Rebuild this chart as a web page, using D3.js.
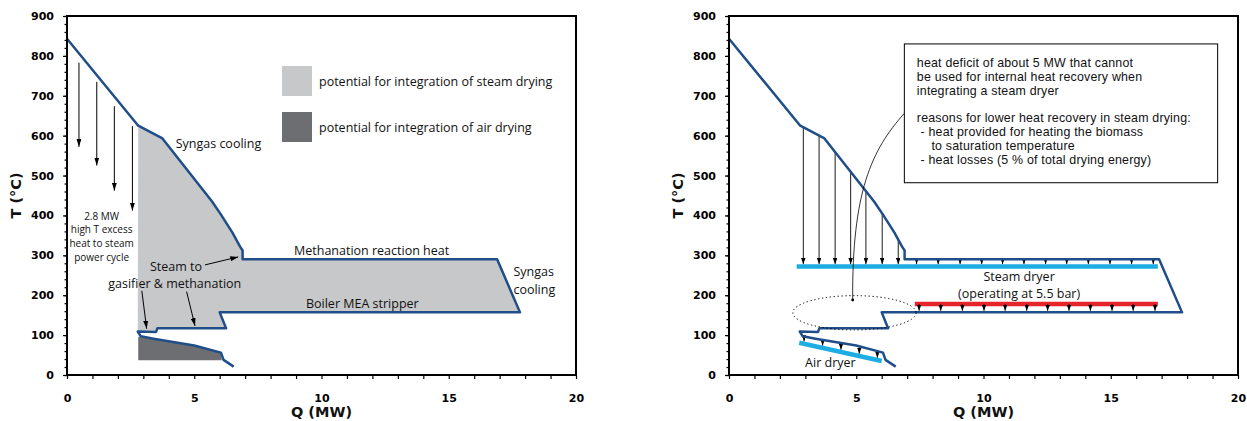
<!DOCTYPE html>
<html>
<head>
<meta charset="utf-8">
<script src="https://cdn.jsdelivr.net/npm/d3@7"></script>
<style>
  body { margin: 0; background: #fff; }
  svg text { font-family: "Open Sans", sans-serif; fill: #111; }
  svg text.box { font-family: "Liberation Sans", Arial, sans-serif; }
  .axis text { font-family: "DejaVu Sans", sans-serif; font-weight: bold; font-size: 11px; fill: #000; }
  .axis-title { font-family: "DejaVu Sans", sans-serif !important; font-weight: bold; font-size: 14.5px; }
</style>
</head>
<body>
<svg id="chart" width="1247" height="421"></svg>
<script>
// grand composite curve, [Q (MW), T (°C)]
const gcc = [[0,843],[2.8,625],[3.75,593],[5.7,435],[6.05,402],[6.5,357],[6.8,322],[6.9,312],[6.9,290],
  [16.9,290],[17.8,157],[6.0,157],[6.25,117],[3.55,117],[3.5,108],[2.78,109],
  [2.9,97],[3.4,91],[5.0,74],[6.05,56],[6.15,38],[6.55,21]];
const airPotential = [[2.8,96],[3.4,91],[5.0,74],[6.05,56],[6.08,37],[2.8,37]];

// left panel annotations
const excessArrowQ = [0.47, 1.17, 1.86, 2.57];
const excessArrowTop = [783, 735, 674, 624];
const excessArrowBottom = [572, 525, 462, 412];
const steamToArrows = [[[5.42,276],[6.73,296]], [[2.94,211],[3.13,116]], [[4.70,209],[5.03,123]]];

// right panel
const steamDryerT = 272, steamDryerQ = [2.66, 16.85];
const redLineT = 178, redLineQ = [7.3, 16.85];
const airDryerLine = [[2.76,81],[6.0,35]];
const hotArrowQ = [2.92, 3.54, 4.17, 4.78, 5.38, 6.02, 6.65];
const methArrowQ = [7.37, 8.22, 9.08, 9.93, 10.75, 11.59, 12.44, 13.27, 14.12, 14.97, 15.82, 16.67];
const redArrowQ = [7.47, 8.32, 9.17, 10.02, 10.85, 11.7, 12.52, 13.36, 14.2, 15.05, 15.88, 16.74];
const airArrowQ = [2.95, 3.68, 4.4, 5.12, 5.83];

const qTicks = [0, 5, 10, 15, 20];
const tTicks = [0, 100, 200, 300, 400, 500, 600, 700, 800, 900];
const qMinor = d3.range(0, 21, 1);
const tMinor = d3.range(0, 901, 20);

const boxLines = ["heat deficit of about 5 MW that cannot", "be used for internal heat recovery when",
  "integrating a steam dryer", "reasons for lower heat recovery in steam drying:",
  " - heat provided for heating the biomass", "    to saturation temperature", " - heat losses (5 % of total drying energy)"];
const boxLineY = [23, 37, 51, 78, 92, 106, 120];

const BLUE = "#1f4e89", LIGHT = "#c7c8ca", DARK = "#6d6e71", CYAN = "#1cade4", RED = "#e8242b";

const svg = d3.select("#chart");
const y = d3.scaleLinear().domain([0, 900]).range([375, 16]);
const xLeft = d3.scaleLinear().domain([0, 20]).range([67, 576]);
const xRight = d3.scaleLinear().domain([0, 20]).range([729, 1238]);

const defs = svg.append("defs");
function marker(id, len, wid) {
  defs.append("marker").attr("id", id)
    .attr("viewBox", `0 0 ${len} ${wid}`)
    .attr("refX", len).attr("refY", wid / 2)
    .attr("markerWidth", len).attr("markerHeight", wid)
    .attr("markerUnits", "userSpaceOnUse").attr("orient", "auto")
    .append("path").attr("d", `M0,0L${len},${wid / 2}L0,${wid}Z`).attr("fill", "#000");
}
marker("ahBig", 8, 5);
marker("ahSmall", 6, 4.5);

// linear interpolation along a piece of the curve
function tAt(q, pts) {
  for (let i = 0; i < pts.length - 1; i++) {
    const a = pts[i], b = pts[i + 1];
    if (q >= a[0] && q <= b[0]) return a[1] + (b[1] - a[1]) * (q - a[0]) / (b[0] - a[0]);
  }
  return pts[pts.length - 1][1];
}

function axes(x) {
  const g = svg.append("g").attr("class", "axis");
  const x0 = x.range()[0];
  g.append("g").attr("transform", `translate(0,${y(0)})`)
    .call(d3.axisBottom(x).tickValues(qMinor).tickSize(4).tickPadding(15)
      .tickFormat(d => qTicks.includes(d) ? d : ""))
    .call(s => s.select(".domain").remove());
  g.append("g").attr("transform", `translate(${x0},0)`)
    .call(d3.axisLeft(y).tickValues(tMinor).tickSize(2.5).tickFormat(""))
    .call(s => s.select(".domain").remove());
  g.append("g").attr("transform", `translate(${x0},0)`)
    .call(d3.axisLeft(y).tickValues(tTicks).tickSize(4).tickPadding(9))
    .call(s => s.select(".domain").remove());
  g.selectAll(".tick line").attr("stroke", "#000").attr("stroke-width", 1.2);
  svg.append("rect").attr("x", x0).attr("y", y(900))
    .attr("width", x.range()[1] - x0).attr("height", y(0) - y(900))
    .attr("fill", "none").attr("stroke", "#000").attr("stroke-width", 2);
  svg.append("text").attr("class", "axis-title").attr("text-anchor", "middle")
    .attr("transform", `translate(${x0 - 46},${y(450)}) rotate(-90)`).text("T (°C)");
  svg.append("text").attr("class", "axis-title").attr("text-anchor", "middle")
    .attr("x", x(10)).attr("y", 417).text("Q (MW)");
}

function curve(x) {
  svg.append("path").datum(gcc)
    .attr("d", d3.line().x(d => x(d[0])).y(d => y(d[1])))
    .attr("fill", "none").attr("stroke", BLUE).attr("stroke-width", 2.5)
    .attr("stroke-linejoin", "round");
}

// one text element, several lines (tspans); ts = T of each baseline
function label(x, q, ts, lines, size, anchor) {
  const t = svg.append("text").attr("font-size", size || 12.5).attr("text-anchor", anchor || "start");
  [].concat(lines).forEach((s, i) => {
    t.append("tspan").attr("x", x(q)).attr("y", y([].concat(ts)[i])).text(s);
  });
}

// ---------- left panel ----------
const line = x => d3.line().x(d => x(d[0])).y(d => y(d[1]));
svg.append("path").datum(gcc.slice(1, 16)).attr("d", d => line(xLeft)(d) + "Z").attr("fill", LIGHT);
svg.append("path").datum(airPotential).attr("d", d => line(xLeft)(d) + "Z").attr("fill", DARK);
curve(xLeft);

excessArrowQ.forEach((q, i) => {
  svg.append("line").attr("x1", xLeft(q)).attr("x2", xLeft(q))
    .attr("y1", y(excessArrowTop[i])).attr("y2", y(excessArrowBottom[i]))
    .attr("stroke", "#000").attr("stroke-width", 1).attr("marker-end", "url(#ahBig)");
});
steamToArrows.forEach(a => {
  svg.append("line").attr("x1", xLeft(a[0][0])).attr("y1", y(a[0][1]))
    .attr("x2", xLeft(a[1][0])).attr("y2", y(a[1][1]))
    .attr("stroke", "#000").attr("stroke-width", 1).attr("marker-end", "url(#ahBig)");
});

label(xLeft, 1.36, [389, 355, 321, 287], ["2.8 MW", "high T excess", "heat to steam", "power cycle"], 10, "middle");
label(xLeft, 4.27, 569, "Syngas cooling");
label(xLeft, 8.92, 302, "Methanation reaction heat");
label(xLeft, 17.54, [248, 204], ["Syngas", "cooling"]);
label(xLeft, 9.39, 168, "Boiler MEA stripper");
svg.append("text").attr("font-size", 12.5).call(t => {
  t.append("tspan").attr("x", xLeft(3.26)).attr("y", y(260)).text("Steam to");
  t.append("tspan").attr("x", xLeft(1.62)).attr("y", y(217)).text("gasifier & methanation");
});

// legend
[[LIGHT, "potential for integration of steam drying"], [DARK, "potential for integration of air drying"]]
  .forEach((d, i) => {
    const ly = 66 + i * 46;
    svg.append("rect").attr("x", 282).attr("y", ly).attr("width", 30).attr("height", 30).attr("fill", d[0]);
    svg.append("text").attr("x", 319).attr("y", ly + 19.5).attr("font-size", 12.5).text(d[1]);
  });
axes(xLeft);

// ---------- right panel ----------
const xr = xRight;
svg.append("line").attr("x1", xr(steamDryerQ[0])).attr("x2", xr(steamDryerQ[1]))
  .attr("y1", y(steamDryerT)).attr("y2", y(steamDryerT)).attr("stroke", CYAN).attr("stroke-width", 4.5);
svg.append("line").attr("x1", xr(redLineQ[0])).attr("x2", xr(redLineQ[1]))
  .attr("y1", y(redLineT)).attr("y2", y(redLineT)).attr("stroke", RED).attr("stroke-width", 4.5);
svg.append("line").attr("x1", xr(airDryerLine[0][0])).attr("y1", y(airDryerLine[0][1]))
  .attr("x2", xr(airDryerLine[1][0])).attr("y2", y(airDryerLine[1][1])).attr("stroke", CYAN).attr("stroke-width", 4.5);

const hotPart = gcc.slice(0, 9), lowPart = gcc.slice(16, 20);
function arrow(q, t1, t2, w) {
  svg.append("line").attr("x1", xr(q)).attr("x2", xr(q)).attr("y1", y(t1)).attr("y2", y(t2))
    .attr("stroke", "#000").attr("stroke-width", w || 0.9).attr("marker-end", "url(#ahSmall)");
}
hotArrowQ.forEach(q => arrow(q, tAt(q, hotPart), 278));
methArrowQ.forEach(q => arrow(q, 290, 278));
redArrowQ.forEach(q => arrow(q, redLineT, 161));
airArrowQ.forEach(q => arrow(q, tAt(q, lowPart), tAt(q, airDryerLine) + 6));

curve(xr);

// dotted ellipse marking the heat deficit
svg.append("ellipse").attr("cx", xr(4.93)).attr("cy", y(156))
  .attr("rx", xr(4.93 + 2.42) - xr(4.93)).attr("ry", y(156 - 43) - y(156))
  .attr("fill", "none").attr("stroke", "#000").attr("stroke-width", 1).attr("stroke-dasharray", "1.3 2.6");

// leader from text box
const lead = d3.path();
lead.moveTo(xr(6.89), y(656));
lead.bezierCurveTo(xr(5.6), y(564), xr(4.83), y(459), xr(4.86), y(188));
svg.append("path").attr("d", lead.toString()).attr("fill", "none").attr("stroke", "#000").attr("stroke-width", 0.8);
svg.append("circle").attr("cx", xr(4.86)).attr("cy", y(188)).attr("r", 1.4).attr("fill", "#000");

// text box
const bx = xr(6.89), by = y(830);
svg.append("rect").attr("x", bx).attr("y", by).attr("width", xr(19.2) - bx).attr("height", y(482) - by)
  .attr("fill", "#fff").attr("stroke", "#000").attr("stroke-width", 1);
const boxText = svg.append("text").attr("class", "box").attr("font-size", 12.4)
  .attr("letter-spacing", 0.2).attr("xml:space", "preserve").style("white-space", "pre");
boxLines.forEach((s, i) => {
  boxText.append("tspan").attr("x", bx + 12.5).attr("y", by + boxLineY[i]).text(s);
});

label(xr, 11.4, [236, 194], ["Steam dryer", "(operating at 5.5 bar)"], 12.5, "middle");
label(xr, 2.99, 21, "Air dryer");

axes(xr);
</script>
</body>
</html>
